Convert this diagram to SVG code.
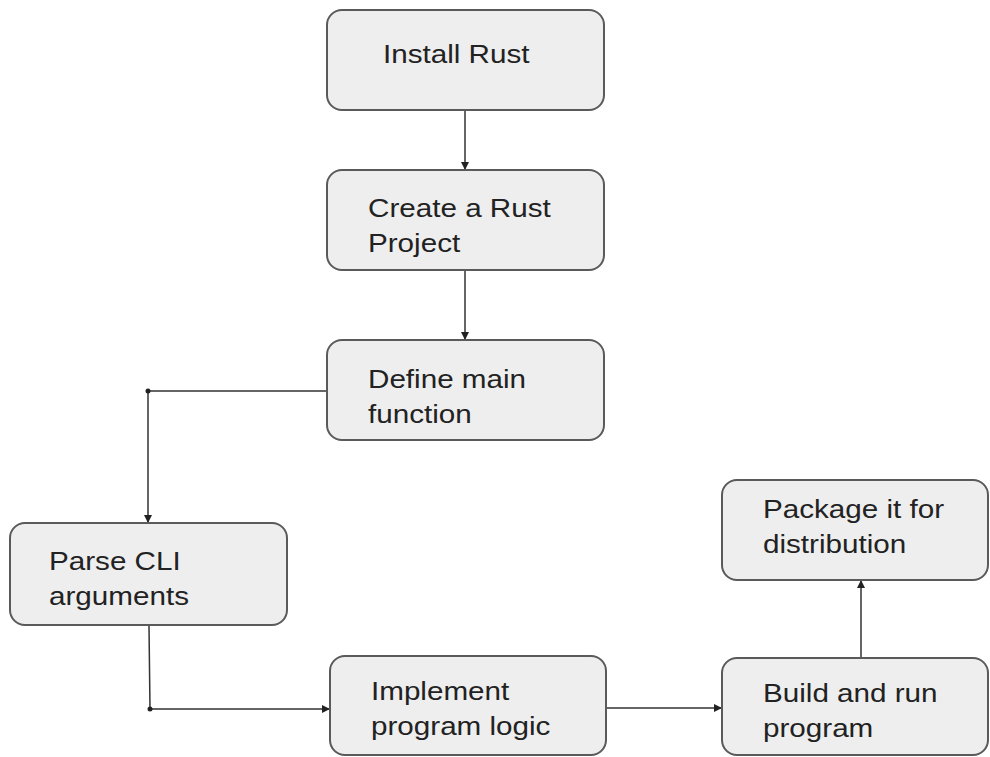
<svg xmlns="http://www.w3.org/2000/svg" width="990" height="757" viewBox="0 0 990 757">
<style>
.box{fill:#eeeeee;stroke:#5a5a5a;stroke-width:2}
.t{font-family:"Liberation Sans",Arial,sans-serif;font-size:26px;fill:#222222}
.c{fill:none;stroke:#333333;stroke-width:1.5}
</style>
<defs>
<marker id="ah" viewBox="0 0 10 10" refX="10" refY="5" markerWidth="8" markerHeight="8" markerUnits="userSpaceOnUse" orient="auto">
<path d="M0,0 L10,5 L0,10 z" fill="#222222"/>
</marker>
</defs>
<rect width="990" height="757" fill="#ffffff"/>
<g id="connectors">
<line class="c" x1="465" y1="110" x2="465" y2="170" marker-end="url(#ah)"/>
<line class="c" x1="465" y1="270" x2="465" y2="340" marker-end="url(#ah)"/>
<polyline class="c" points="327,391 148,391 148,523" marker-end="url(#ah)"/>
<circle cx="148" cy="391" r="2.5" fill="#222222"/>
<polyline class="c" points="149,626 150,709 330,709" marker-end="url(#ah)"/>
<circle cx="150" cy="709" r="2.5" fill="#222222"/>
<line class="c" x1="606" y1="708" x2="722" y2="708" marker-end="url(#ah)"/>
<line class="c" x1="861" y1="658" x2="861" y2="580" marker-end="url(#ah)"/>
</g>
<g id="install">
<rect class="box" x="327" y="10" width="277" height="100" rx="15"/>
<text class="t" transform="translate(383,63) scale(1.14,1)">Install Rust</text>
</g>
<g id="create">
<rect class="box" x="327" y="170" width="277" height="100" rx="15"/>
<text class="t" transform="translate(368,217) scale(1.14,1)">Create a Rust</text>
<text class="t" transform="translate(368,252) scale(1.14,1)">Project</text>
</g>
<g id="define">
<rect class="box" x="327" y="340" width="277" height="100" rx="15"/>
<text class="t" transform="translate(368,388) scale(1.14,1)">Define main</text>
<text class="t" transform="translate(368,423) scale(1.14,1)">function</text>
</g>
<g id="parse">
<rect class="box" x="10" y="523" width="277" height="102" rx="15"/>
<text class="t" transform="translate(49,570) scale(1.14,1)">Parse CLI</text>
<text class="t" transform="translate(49,605) scale(1.14,1)">arguments</text>
</g>
<g id="implement">
<rect class="box" x="330" y="656" width="276" height="99" rx="15"/>
<text class="t" transform="translate(371,700) scale(1.14,1)">Implement</text>
<text class="t" transform="translate(371,735) scale(1.14,1)">program logic</text>
</g>
<g id="build">
<rect class="box" x="722" y="658" width="266" height="97" rx="15"/>
<text class="t" transform="translate(763,702) scale(1.14,1)">Build and run</text>
<text class="t" transform="translate(763,737) scale(1.14,1)">program</text>
</g>
<g id="package">
<rect class="box" x="722" y="480" width="266" height="100" rx="15"/>
<text class="t" transform="translate(763,518) scale(1.14,1)">Package it for</text>
<text class="t" transform="translate(763,553) scale(1.14,1)">distribution</text>
</g>
</svg>
